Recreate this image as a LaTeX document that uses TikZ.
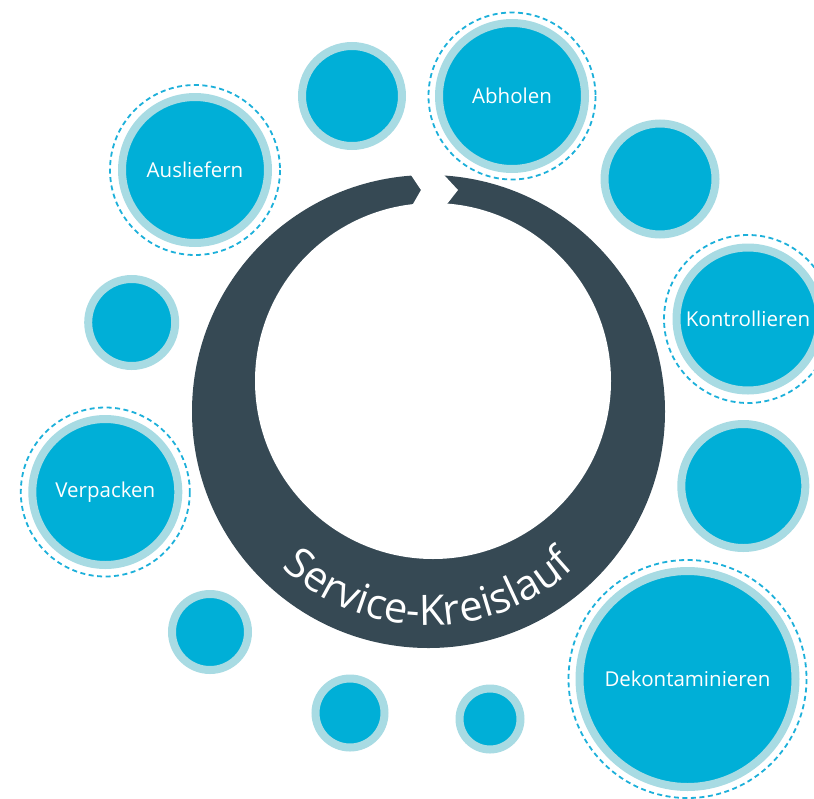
\documentclass[tikz,border=0pt]{standalone}
\usepackage{fontspec}
\setmainfont{Open Sans}
\usetikzlibrary{decorations.text}
\definecolor{ringdark}{RGB}{54,73,84}
\definecolor{bubblefill}{RGB}{0,175,215}
\definecolor{bubbleedge}{RGB}{168,219,227}
\definecolor{dashcol}{RGB}{29,176,218}
\newcommand\ringtextfont{\fontsize{42}{46}\selectfont}
\begin{document}
\begin{tikzpicture}[x=1pt,y=-1pt,
  bubble/.style={circle, fill=bubblefill, draw=bubbleedge, line width=8pt,
    inner sep=0pt, text=white, font=\fontsize{20.5}{24}\selectfont},
  dashring/.style={draw=dashcol, line width=1.8pt, dash pattern=on 5pt off 3.5pt}]
\useasboundingbox (0,0) rectangle (814,798);
\clip (0,0) rectangle (814,798);
% central ring
\coordinate (ringc) at (428.5,411.5);
\coordinate (holec) at (433,381);
\fill[ringdark] (ringc) circle[radius=236.5];
\fill[white] (holec) circle[radius=178];
\fill[white] (404.3,165) -- (421,190) -- (406.7,215) -- (438.4,215) -- (458,190) -- (434.7,165) -- cycle;
\path[decorate, decoration={text along path, text align=center, text color=white,
   text={|\ringtextfont|Service-Kreislauf}}]
  (ringc) ++(160:214) arc[start angle=160, end angle=20, radius=214];
% bubbles
\node[bubble, minimum size=100pt] (s1) at (352,96) {};
\node[bubble, minimum size=146pt] (abholen) at (512,96) {Abholen};
\node[bubble, minimum size=146pt] (ausliefern) at (195,170) {Ausliefern};
\node[bubble, minimum size=111pt] (s2) at (660,179) {};
\node[bubble, minimum size=143pt] (kontrollieren) at (748,319) {Kontrollieren};
\node[bubble, minimum size=87pt] (s3) at (131.7,322.5) {};
\node[bubble, minimum size=146pt] (verpacken) at (105.3,492) {Verpacken};
\node[bubble, minimum size=124pt] (s4) at (743.3,486) {};
\node[bubble, minimum size=76pt] (s5) at (210,632) {};
\node[bubble, minimum size=69pt] (s6) at (350,713) {};
\node[bubble, minimum size=61pt] (s7) at (490,719) {};
\node[bubble, minimum size=216pt] (dekont) at (687.5,679) {Dekontaminieren};
% dashed outer rings
\draw[dashring] (abholen.center) circle[radius=83.5];
\draw[dashring] (ausliefern.center) circle[radius=85];
\draw[dashring] (kontrollieren.center) circle[radius=84];
\draw[dashring] (verpacken.center) circle[radius=84.5];
\draw[dashring] (dekont.center) circle[radius=119];
\end{tikzpicture}
\end{document}
